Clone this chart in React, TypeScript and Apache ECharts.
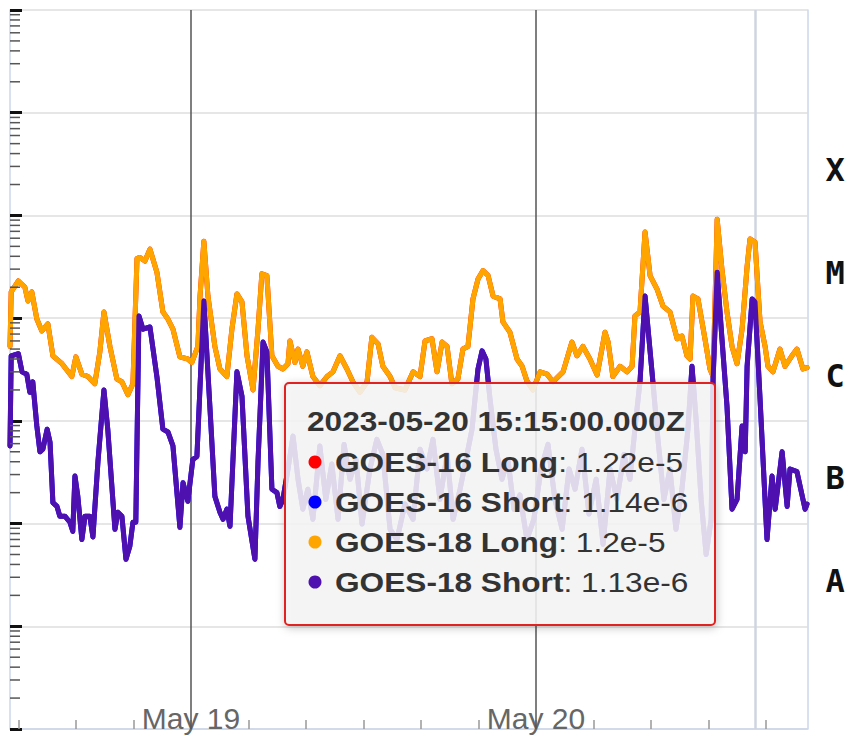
import React, { useEffect, useRef } from 'react';
import * as echarts from 'echarts';

const X_MIN = '05-18 11:25';
const X_MAX = '05-20 18:53';
const DAY_LINES = ['05-19 00:00', '05-20 00:00'];
const HOVER_TIME = '05-20 15:15';
const CLASS_LABELS = ['', 'A', 'B', 'C', 'M', 'X', ''];
const MONTHS = ['Jan', 'Feb', 'Mar', 'Apr', 'May', 'Jun', 'Jul', 'Aug', 'Sep', 'Oct', 'Nov', 'Dec'];
const Y_MIN = 1e-9;
const Y_MAX = 1e-2;

const TOOLTIP_HEADER = '2023-05-20 15:15:00.000Z';
const TOOLTIP_NAMES = ['GOES-16 Long', 'GOES-16 Short', 'GOES-18 Long', 'GOES-18 Short'];
const TOOLTIP_VALUES = ['1.22e-5', '1.14e-6', '1.2e-5', '1.13e-6'];
const SERIES_COLORS = ['#ff0000', '#0000ff', '#ffa500', '#4f10b0'];

const goes18Long: [string, number][] = [
  ['05-18 11:25', 5.3e-6], ['05-18 11:30', 1.8e-5], ['05-18 12:00', 2.3e-5], ['05-18 12:27', 2.0e-5],
  ['05-18 12:40', 1.47e-5], ['05-18 12:56', 1.8e-5], ['05-18 13:17', 9.8e-6], ['05-18 13:38', 7.5e-6],
  ['05-18 14:03', 8.8e-6], ['05-18 14:24', 4.3e-6], ['05-18 15:02', 3.6e-6], ['05-18 15:43', 2.7e-6],
  ['05-18 16:00', 4.2e-6], ['05-18 16:25', 2.85e-6], ['05-18 16:50', 2.7e-6], ['05-18 17:19', 2.3e-6],
  ['05-18 17:40', 4.7e-6], ['05-18 17:57', 1.15e-5], ['05-18 18:22', 5.3e-6], ['05-18 18:51', 2.55e-6],
  ['05-18 19:12', 2.4e-6], ['05-18 19:37', 1.8e-6], ['05-18 19:58', 2.3e-6], ['05-18 20:15', 3.8e-5],
  ['05-18 20:27', 3.9e-5], ['05-18 20:48', 3.6e-5], ['05-18 21:09', 4.7e-5], ['05-18 21:38', 2.8e-5],
  ['05-18 22:03', 1.15e-5], ['05-18 22:24', 9.8e-6], ['05-18 22:45', 7.8e-6], ['05-18 23:14', 4.2e-6],
  ['05-18 23:47', 4.0e-6], ['05-19 00:04', 3.7e-6], ['05-19 00:29', 5.3e-6], ['05-19 00:38', 1.64e-5],
  ['05-19 00:54', 5.6e-5], ['05-19 01:11', 1.64e-5], ['05-19 01:40', 5.3e-6], ['05-19 02:01', 3.2e-6],
  ['05-19 02:30', 2.7e-6], ['05-19 02:51', 7.8e-6], ['05-19 03:12', 1.72e-5], ['05-19 03:33', 1.44e-5],
  ['05-19 03:54', 4.3e-6], ['05-19 04:19', 2.0e-6], ['05-19 04:40', 7.8e-6], ['05-19 04:56', 2.7e-5],
  ['05-19 05:17', 2.6e-5], ['05-19 05:38', 4.3e-6], ['05-19 06:03', 3.4e-6], ['05-19 06:24', 3.2e-6],
  ['05-19 06:45', 3.6e-6], ['05-19 06:53', 6.0e-6], ['05-19 07:14', 3.7e-6], ['05-19 07:27', 5.0e-6],
  ['05-19 07:47', 3.4e-6], ['05-19 08:04', 4.7e-6], ['05-19 08:29', 2.7e-6], ['05-19 08:58', 2.2e-6],
  ['05-19 09:28', 2.7e-6], ['05-19 09:53', 3.0e-6], ['05-19 10:22', 4.3e-6], ['05-19 10:51', 3.2e-6],
  ['05-19 11:16', 2.4e-6], ['05-19 11:45', 1.9e-6], ['05-19 12:15', 2.4e-6], ['05-19 12:35', 6.5e-6],
  ['05-19 13:01', 5.6e-6], ['05-19 13:21', 3.4e-6], ['05-19 13:51', 2.7e-6], ['05-19 14:12', 2.1e-6],
  ['05-19 14:53', 2.0e-6], ['05-19 15:27', 3.0e-6], ['05-19 15:56', 2.7e-6], ['05-19 16:17', 6.0e-6],
  ['05-19 16:46', 6.3e-6], ['05-19 17:07', 3.0e-6], ['05-19 17:28', 5.85e-6], ['05-19 17:49', 5.3e-6],
  ['05-19 18:09', 2.3e-6], ['05-19 18:34', 2.55e-6], ['05-19 18:55', 5.0e-6], ['05-19 19:16', 5.3e-6],
  ['05-19 19:37', 1.54e-5], ['05-19 19:58', 2.4e-5], ['05-19 20:19', 2.9e-5], ['05-19 20:40', 2.6e-5],
  ['05-19 21:01', 1.64e-5], ['05-19 21:30', 1.54e-5], ['05-19 21:42', 9.2e-6], ['05-19 22:11', 7.3e-6],
  ['05-19 22:41', 4.0e-6], ['05-19 23:02', 3.4e-6], ['05-19 23:22', 2.45e-6], ['05-19 23:47', 2.0e-6],
  ['05-20 00:17', 3.0e-6], ['05-20 00:46', 2.85e-6], ['05-20 01:11', 2.4e-6], ['05-20 01:53', 3.0e-6],
  ['05-20 02:30', 5.85e-6], ['05-20 02:51', 4.3e-6], ['05-20 03:16', 5.3e-6], ['05-20 03:45', 4.0e-6],
  ['05-20 04:15', 2.8e-6], ['05-20 04:48', 7.3e-6], ['05-20 05:01', 5.85e-6], ['05-20 05:21', 2.7e-6],
  ['05-20 05:51', 3.4e-6], ['05-20 06:20', 3.0e-6], ['05-20 06:41', 3.4e-6], ['05-20 06:53', 1.05e-5],
  ['05-20 07:14', 1.15e-5], ['05-20 07:35', 6.9e-5], ['05-20 07:56', 2.6e-5], ['05-20 08:25', 1.92e-5],
  ['05-20 08:50', 1.31e-5], ['05-20 09:19', 1.15e-5], ['05-20 09:49', 6.3e-6], ['05-20 10:09', 6.7e-6],
  ['05-20 10:30', 4.3e-6], ['05-20 10:43', 4.0e-6], ['05-20 10:55', 1.64e-5], ['05-20 11:16', 1.54e-5],
  ['05-20 11:45', 6.3e-6], ['05-20 12:06', 3.2e-6], ['05-20 12:19', 2.7e-6], ['05-20 12:36', 9.2e-5],
  ['05-20 12:56', 3.0e-5], ['05-20 13:17', 1.15e-5], ['05-20 13:38', 5.3e-6], ['05-20 13:59', 3.6e-6],
  ['05-20 14:20', 7.8e-6], ['05-20 14:41', 3.2e-5], ['05-20 14:53', 5.9e-5], ['05-20 15:14', 5.5e-5],
  ['05-20 15:35', 9.2e-6], ['05-20 15:56', 5.3e-6], ['05-20 16:08', 3.4e-6], ['05-20 16:29', 3.0e-6],
  ['05-20 16:58', 5.0e-6], ['05-20 17:19', 3.4e-6], ['05-20 17:48', 4.3e-6], ['05-20 18:09', 5.0e-6],
  ['05-20 18:34', 3.2e-6], ['05-20 18:51', 3.3e-6],
];

const goes18Short: [string, number][] = [
  ['05-18 11:25', 5.7e-7], ['05-18 11:30', 4.3e-6], ['05-18 12:00', 4.5e-6], ['05-18 12:15', 3.0e-6],
  ['05-18 12:35', 2.85e-6], ['05-18 12:48', 1.9e-6], ['05-18 13:00', 2.4e-6], ['05-18 13:17', 8.9e-7],
  ['05-18 13:30', 5.0e-7], ['05-18 13:42', 5.3e-7], ['05-18 14:00', 8.3e-7], ['05-18 14:12', 6.2e-7],
  ['05-18 14:24', 1.6e-7], ['05-18 14:41', 1.47e-7], ['05-18 14:53', 1.18e-7], ['05-18 15:14', 1.18e-7],
  ['05-18 15:35', 1.03e-7], ['05-18 15:47', 8.4e-8], ['05-18 15:56', 2.9e-7], ['05-18 16:08', 1.84e-7],
  ['05-18 16:25', 7.0e-8], ['05-18 16:38', 1.18e-7], ['05-18 16:58', 1.18e-7], ['05-18 17:11', 7.4e-8],
  ['05-18 17:32', 4.0e-7], ['05-18 17:57', 2.0e-6], ['05-18 18:13', 8.3e-7], ['05-18 18:43', 8.8e-8],
  ['05-18 18:55', 1.29e-7], ['05-18 19:12', 1.18e-7], ['05-18 19:29', 4.5e-8], ['05-18 19:45', 6.0e-8],
  ['05-18 19:58', 1.03e-7], ['05-18 20:10', 1.03e-7], ['05-18 20:23', 1.05e-5], ['05-18 20:40', 7.8e-6],
  ['05-18 21:09', 8.2e-6], ['05-18 21:38', 2.7e-6], ['05-18 22:03', 8.3e-7], ['05-18 22:24', 7.8e-7],
  ['05-18 22:45', 5.7e-7], ['05-18 23:14', 9.2e-8], ['05-18 23:27', 2.5e-7], ['05-18 23:47', 1.65e-7],
  ['05-19 00:08', 4.2e-7], ['05-19 00:25', 4.5e-7], ['05-19 00:54', 1.47e-5], ['05-19 01:19', 1.39e-6],
  ['05-19 01:40', 1.84e-7], ['05-19 02:01', 1.29e-7], ['05-19 02:14', 1.1e-7], ['05-19 02:30', 1.38e-7],
  ['05-19 02:43', 9.4e-8], ['05-19 03:12', 3.0e-6], ['05-19 03:33', 1.74e-6], ['05-19 03:58', 1.18e-7],
  ['05-19 04:27', 4.5e-8], ['05-19 04:40', 4.0e-7], ['05-19 05:01', 5.85e-6], ['05-19 05:17', 4.7e-6],
  ['05-19 05:38', 2.16e-7], ['05-19 05:59', 2.0e-7], ['05-19 06:11', 1.47e-7], ['05-19 06:24', 1.72e-7],
  ['05-19 06:45', 3.4e-7], ['05-19 07:06', 7.1e-7], ['05-19 07:27', 2.7e-7], ['05-19 07:47', 1.38e-7],
  ['05-19 08:08', 2.16e-7], ['05-19 08:29', 1.1e-7], ['05-19 08:58', 5.7e-7], ['05-19 09:23', 1.72e-7],
  ['05-19 09:48', 3.8e-7], ['05-19 10:14', 1.1e-7], ['05-19 10:39', 5.9e-7], ['05-19 11:04', 2.7e-7],
  ['05-19 11:29', 4.2e-7], ['05-19 11:54', 9.9e-8], ['05-19 12:27', 3.4e-7], ['05-19 12:56', 6.6e-7],
  ['05-19 13:21', 4.7e-7], ['05-19 13:51', 8.8e-8], ['05-19 14:20', 7.0e-8], ['05-19 14:53', 1.55e-7],
  ['05-19 15:27', 1.1e-7], ['05-19 15:56', 5.3e-7], ['05-19 16:25', 3.4e-7], ['05-19 16:50', 6.6e-7],
  ['05-19 17:19', 1.72e-7], ['05-19 17:49', 4.7e-7], ['05-19 18:14', 1.1e-7], ['05-19 18:43', 2.16e-7],
  ['05-19 19:08', 4.2e-7], ['05-19 19:33', 8.3e-7], ['05-19 19:58', 3.2e-6], ['05-19 20:15', 4.8e-6],
  ['05-19 20:31', 4.0e-6], ['05-19 20:48', 1.63e-6], ['05-19 21:13', 5.3e-7], ['05-19 21:38', 2.7e-7],
  ['05-19 22:03', 4.2e-7], ['05-19 22:28', 1.38e-7], ['05-19 22:53', 1.9e-7], ['05-19 23:22', 7.0e-8],
  ['05-19 23:51', 1.1e-7], ['05-20 00:21', 3.4e-7], ['05-20 00:50', 5.9e-7], ['05-20 01:19', 1.72e-7],
  ['05-20 01:49', 8.8e-8], ['05-20 02:18', 3.4e-7], ['05-20 02:43', 2.16e-7], ['05-20 03:12', 5.3e-7],
  ['05-20 03:41', 1.24e-7], ['05-20 04:11', 2.7e-7], ['05-20 04:40', 6.3e-8], ['05-20 05:09', 3.4e-7],
  ['05-20 05:38', 1.72e-7], ['05-20 06:07', 4.7e-7], ['05-20 06:32', 2.7e-7], ['05-20 06:57', 1.04e-6],
  ['05-20 07:14', 2.4e-6], ['05-20 07:35', 1.64e-5], ['05-20 08:04', 3.0e-6], ['05-20 08:29', 6.6e-7],
  ['05-20 08:54', 1.72e-7], ['05-20 09:19', 3.4e-7], ['05-20 09:44', 8.8e-8], ['05-20 10:09', 2.16e-7],
  ['05-20 10:34', 8.3e-7], ['05-20 10:51', 3.4e-6], ['05-20 11:08', 1.04e-6], ['05-20 11:29', 1.72e-7],
  ['05-20 11:50', 5.0e-8], ['05-20 12:11', 1.1e-7], ['05-20 12:19', 2.55e-6], ['05-20 12:36', 2.8e-5],
  ['05-20 12:56', 6.3e-6], ['05-20 13:17', 1.39e-6], ['05-20 13:38', 1.38e-7], ['05-20 13:59', 1.72e-7],
  ['05-20 14:20', 8.9e-7], ['05-20 14:33', 5.0e-7], ['05-20 14:41', 3.4e-6], ['05-20 15:02', 1.54e-5],
  ['05-20 15:14', 1.44e-5], ['05-20 15:35', 1.63e-6], ['05-20 16:04', 7.0e-8], ['05-20 16:25', 2.9e-7],
  ['05-20 16:38', 1.38e-7], ['05-20 17:07', 5.0e-7], ['05-20 17:28', 1.47e-7], ['05-20 17:40', 3.4e-7],
  ['05-20 18:09', 3.2e-7], ['05-20 18:43', 1.38e-7], ['05-20 18:51', 1.55e-7],
];

// GOES-16 traces are indistinguishable from (hidden under) the GOES-18 traces
const goes16Long = goes18Long;
const goes16Short = goes18Short;

function t(s: string): number {
  const [md, hm] = s.split(' ');
  const [mo, d] = md.split('-').map(Number);
  const [h, mi] = hm.split(':').map(Number);
  return Date.UTC(2023, mo - 1, d, h, mi);
}

const FONT = '"Liberation Sans", Arial, Helvetica, sans-serif';

export default function App() {
  const ref = useRef<HTMLDivElement>(null);

  useEffect(() => {
    if (!ref.current) return;
    const chart = echarts.init(ref.current, null, { renderer: 'svg' });
    const xMin = t(X_MIN);
    const xMax = t(X_MAX);

    const minorTicks: [number, number][] = [];
    for (let e = -9; e < -2; e++) {
      for (let k = 2; k <= 9; k++) minorTicks.push([xMin, k * Math.pow(10, e)]);
    }

    const lineSeries = (name: string, data: [string, number][], color: string, extra: any = {}) => ({
      type: 'line',
      name,
      data: data.map(([s, v]) => [t(s), v]),
      showSymbol: false,
      symbol: 'none',
      silent: true,
      lineStyle: { color, width: 5, cap: 'round', join: 'round' },
      itemStyle: { color },
      ...extra,
    });

    const rowY = [462, 502, 542, 582];
    const tooltipGraphics: any[] = [
      {
        type: 'rect',
        z: 100,
        shape: { x: 285, y: 383, width: 430, height: 242, r: 4 },
        style: {
          fill: 'rgba(247,247,247,0.85)',
          stroke: '#e02424',
          lineWidth: 2,
          shadowBlur: 8,
          shadowColor: 'rgba(0,0,0,0.25)',
          shadowOffsetX: 1,
          shadowOffsetY: 2,
        },
      },
      {
        type: 'text',
        z: 101,
        x: 307,
        y: 421,
        scaleX: 1.13,
        style: {
          text: TOOLTIP_HEADER,
          fontSize: 28,
          fontWeight: 'bold',
          fontFamily: FONT,
          fill: '#333333',
          verticalAlign: 'middle',
        },
      },
    ];
    TOOLTIP_NAMES.forEach((name, i) => {
      tooltipGraphics.push({
        type: 'circle',
        z: 101,
        shape: { cx: 315, cy: rowY[i], r: 6.5 },
        style: { fill: SERIES_COLORS[i] },
      });
      tooltipGraphics.push({
        type: 'text',
        z: 101,
        x: 335,
        y: rowY[i],
        scaleX: 1.13,
        style: {
          text: `{b|${name}}{n|: ${TOOLTIP_VALUES[i]}}`,
          fontSize: 28,
          fontFamily: FONT,
          fill: '#333333',
          verticalAlign: 'middle',
          rich: {
            b: { fontWeight: 'bold', fontSize: 28, fontFamily: FONT, fill: '#333333' },
            n: { fontWeight: 'normal', fontSize: 28, fontFamily: FONT, fill: '#333333' },
          },
        },
      });
    });

    const option: any = {
      animation: false,
      useUTC: true,
      backgroundColor: '#ffffff',
      grid: {
        left: 10,
        right: 42.5,
        top: 10,
        bottom: 7,
        containLabel: false,
        outerBoundsMode: 'none',
      },
      xAxis: {
        type: 'time',
        min: xMin,
        max: xMax,
        minInterval: 4 * 3600 * 1000,
        maxInterval: 4 * 3600 * 1000,
        axisLine: { show: true, lineStyle: { color: '#ccd6eb', width: 1.5 } },
        axisTick: { show: true, inside: true, length: 9, lineStyle: { color: '#999999', width: 1.5 } },
        axisLabel: {
          inside: true,
          margin: -4,
          color: '#666666',
          fontSize: 30,
          fontFamily: FONT,
          showMinLabel: false,
          showMaxLabel: false,
          formatter: (value: number) => {
            const d = new Date(value);
            return d.getUTCHours() === 0 && d.getUTCMinutes() === 0
              ? `${MONTHS[d.getUTCMonth()]} ${d.getUTCDate()}`
              : '';
          },
        },
        splitLine: { show: false },
      },
      yAxis: [
        {
          type: 'log',
          logBase: 10,
          min: Y_MIN,
          max: Y_MAX,
          position: 'left',
          axisLine: { show: true, lineStyle: { color: '#ccd6eb', width: 1.5 } },
          axisTick: { show: true, inside: true, length: 12, lineStyle: { color: '#111111', width: 3 } },
          axisLabel: { show: false },
          splitLine: { show: true, lineStyle: { color: '#e6e6e6', width: 2 } },
        },
        {
          type: 'category',
          data: CLASS_LABELS,
          position: 'right',
          axisLine: { show: true, lineStyle: { color: '#ccd6eb', width: 1.5 } },
          axisTick: { show: false },
          splitLine: { show: false },
          axisLabel: {
            fontFamily: '"DejaVu Sans Mono", monospace',
            fontWeight: 'bold',
            fontSize: 32,
            color: '#111111',
            margin: 18,
            verticalAlign: 'top',
            lineHeight: 12,
          },
        },
      ],
      series: [
        lineSeries('GOES-16 Long', goes16Long, SERIES_COLORS[0], {
          markLine: {
            silent: true,
            symbol: 'none',
            z: 1,
            label: { show: false },
            animation: false,
            data: [
              ...DAY_LINES.map((s) => ({ xAxis: t(s), lineStyle: { color: '#555555', width: 1.5, type: 'solid' } })),
              { xAxis: t(HOVER_TIME), lineStyle: { color: '#cfd5df', width: 2.5, type: 'solid' } },
            ],
          },
        }),
        lineSeries('GOES-16 Short', goes16Short, SERIES_COLORS[1]),
        lineSeries('GOES-18 Long', goes18Long, SERIES_COLORS[2]),
        lineSeries('GOES-18 Short', goes18Short, SERIES_COLORS[3]),
        {
          type: 'custom',
          name: 'minorTicks',
          coordinateSystem: 'cartesian2d',
          xAxisIndex: 0,
          yAxisIndex: 0,
          silent: true,
          clip: false,
          z: 10,
          data: minorTicks,
          renderItem: (params: any, api: any) => {
            const p = api.coord([api.value(0), api.value(1)]);
            return {
              type: 'line',
              shape: { x1: p[0], y1: p[1], x2: p[0] + 10, y2: p[1] },
              style: { stroke: '#555555', lineWidth: 1.5 },
            };
          },
        },
      ],
      graphic: tooltipGraphics,
    };

    chart.setOption(option);
    return () => chart.dispose();
  }, []);

  return (
    <div
      ref={ref}
      style={{ position: 'fixed', left: 0, top: 0, width: 850, height: 736, background: '#ffffff' }}
    />
  );
}
